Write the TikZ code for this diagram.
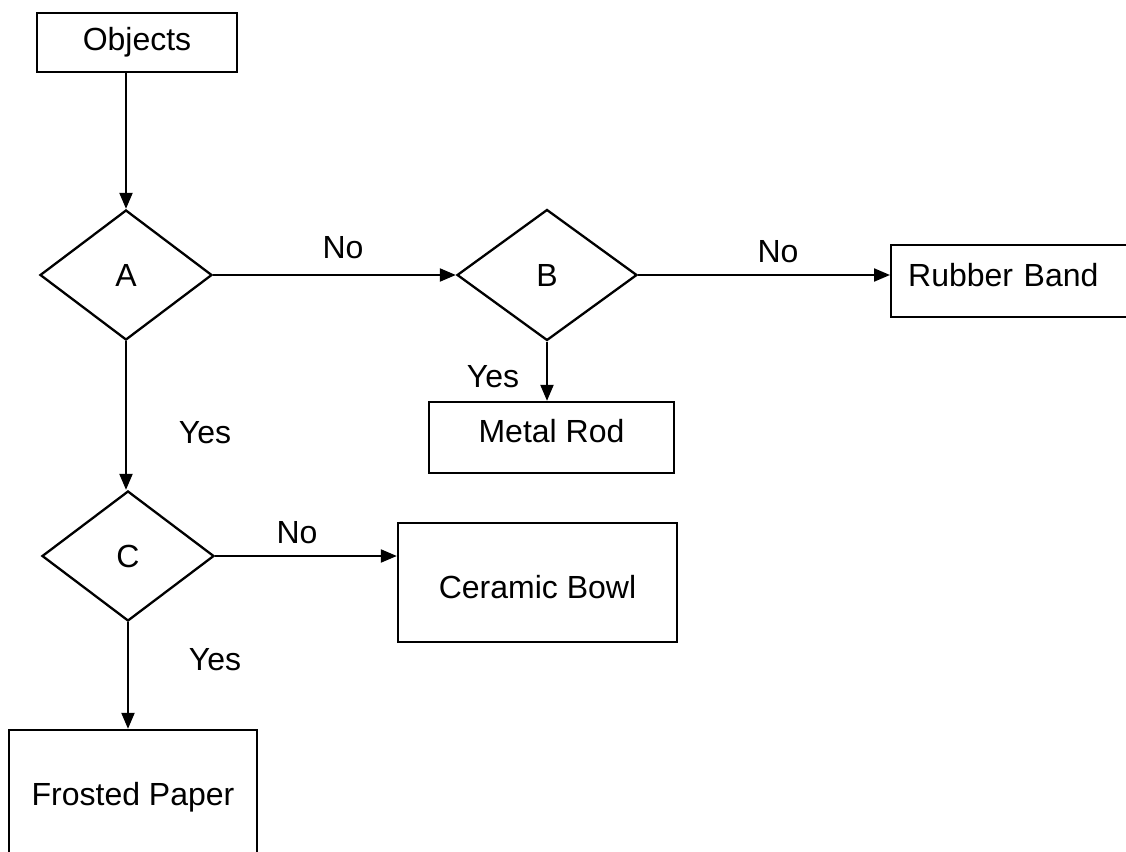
\documentclass[tikz,border=0pt]{standalone}
\usepackage{fontspec}
\setmainfont{Liberation Sans}
\usetikzlibrary{shapes.geometric,arrows.meta}
\begin{document}
\begin{tikzpicture}[x=1pt,y=-1pt,
  every node/.style={font=\fontsize{32}{37}\selectfont},
  box/.style={draw,line width=2.3pt,rectangle,inner sep=0pt},
  dec/.style={draw,line width=2.3pt,diamond,inner sep=0pt,minimum width=172pt,minimum height=130pt},
  conn/.style={line width=2.1pt,-{Triangle[length=16pt,width=13pt]}},
  lbl/.style={inner sep=0pt}]
\useasboundingbox (0,0) rectangle (1126,851);
\clip (0,0) rectangle (1126,851);
\node[box,minimum width=200pt,minimum height=59pt] (obj) at (137,42.5) {Objects};
\node[dec] (A) at (126,275) {A};
\node[dec,minimum width=180pt,minimum height=131pt] (B) at (547,275) {B};
\node[dec] (C) at (128,556) {C};
\node[box,minimum width=245pt,minimum height=71pt,text depth=14pt] (mr) at (551.5,437.5) {Metal Rod};
\node[box,anchor=west,minimum width=250pt,minimum height=72pt,text width=216pt,align=left,inner xsep=17pt,text depth=12pt] (rb) at (890,281) {Rubber Band};
\node[box,minimum width=279pt,minimum height=119pt,text height=33pt] (cb) at (537.5,582.5) {Ceramic Bowl};
\node[box,minimum width=248pt,minimum height=134pt] (fp) at (133,797) {Frosted Paper};
\draw[conn] (obj.south -| A.north) -- (A.north);
\draw[conn] (A.east) -- (A.east -| B.west);
\draw[conn] (B.east) -- (B.east -| rb.west);
\draw[conn] (B.south) -- (B.south |- mr.north);
\draw[conn] (A.south) -- (A.south |- C.north);
\draw[conn] (C.east) -- (C.east -| cb.west);
\draw[conn] (C.south) -- (C.south |- fp.north);
\node[lbl] (l1) at (343,248) {No};
\node[lbl] (l2) at (778,252) {No};
\node[lbl] (l3) at (493,377) {Yes};
\node[lbl] (l4) at (205,433) {Yes};
\node[lbl] (l5) at (297,533) {No};
\node[lbl] (l6) at (215,660) {Yes};
\end{tikzpicture}
\end{document}
